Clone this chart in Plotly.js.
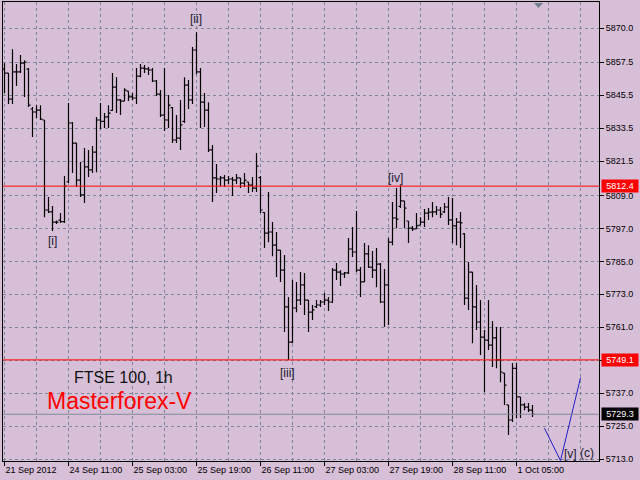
<!DOCTYPE html>
<html>
<head>
<meta charset="utf-8">
<script src="https://cdn.plot.ly/plotly-3.0.1.min.js"></script>
<style>html,body{margin:0;padding:0;background:#D8BFD8;}#chart{width:640px;height:480px;}</style>
</head>
<body>
<div id="chart"></div>
<script>
// ---- data (FTSE 100, 1h bars) ----
var openP = [
5855.0,5853.6,5844.1,5854.0,5854.0,5857.2,5855.0,5840.5,5839.4,5840.1,
5836.5,5803.7,5803.0,5799.3,5800.0,5799.5,5814.0,5835.4,5828.1,5814.6,
5809.2,5819.4,5818.3,5824.8,5836.5,5836.0,5837.6,5840.0,5848.5,5843.8,
5843.4,5847.0,5844.9,5844.5,5852.5,5855.4,5855.1,5854.7,5850.7,5845.9,
5838.3,5836.5,5841.0,5829.2,5829.9,5836.0,5849.2,5843.8,5862.0,5854.0,
5843.0,5840.1,5825.6,5815.4,5815.0,5815.4,5814.6,5815.0,5814.6,5815.4,
5813.5,5813.9,5812.8,5811.7,5815.5,5802.8,5795.3,5795.7,5790.9,5789.1,
5781.8,5768.4,5755.6,5768.0,5770.9,5776.4,5770.9,5766.5,5768.5,5769.1,
5770.2,5770.9,5770.2,5781.8,5781.1,5780.4,5780.8,5789.5,5788.4,5781.8,
5777.5,5787.7,5782.9,5781.8,5784.0,5770.2,5776.4,5792.0,5800.8,5805.0,
5807.0,5799.7,5797.1,5796.8,5798.2,5799.3,5802.6,5802.9,5803.0,5803.7,
5803.0,5804.8,5800.1,5797.9,5799.3,5795.0,5771.6,5781.1,5768.4,5762.9,
5757.4,5756.3,5754.5,5757.1,5749.1,5744.3,5732.7,5727.2,5746.0,5735.6,
5732.7,5731.9,5730.8
];
var highP = [
5857.2,5853.6,5862.3,5856.9,5860.2,5858.3,5855.4,5841.2,5841.9,5841.9,
5836.5,5808.4,5805.2,5799.9,5802.6,5816.1,5842.7,5835.8,5828.1,5821.2,
5826.3,5825.6,5827.0,5837.6,5842.7,5839.0,5841.9,5853.6,5852.1,5844.1,
5848.1,5847.0,5846.3,5855.4,5856.9,5856.5,5855.8,5855.4,5851.1,5847.4,
5855.4,5845.6,5841.2,5838.3,5843.8,5852.1,5851.1,5863.1,5868.5,5855.4,
5846.3,5843.0,5827.4,5820.5,5816.1,5816.5,5816.1,5815.7,5816.8,5815.4,
5817.2,5813.9,5815.7,5824.5,5816.1,5803.0,5810.3,5799.3,5795.7,5789.1,
5787.3,5772.0,5778.2,5777.5,5781.1,5780.8,5770.9,5769.1,5770.9,5770.9,
5773.5,5772.0,5782.6,5784.4,5781.8,5781.1,5793.5,5797.5,5803.3,5782.9,
5791.7,5790.9,5788.8,5789.9,5784.4,5782.2,5793.5,5806.6,5811.7,5812.8,
5807.0,5799.7,5797.9,5802.6,5801.1,5804.1,5804.4,5806.6,5805.2,5804.8,
5806.3,5808.4,5808.1,5800.8,5803.0,5795.3,5784.8,5781.1,5776.4,5770.9,
5760.0,5770.9,5763.3,5761.1,5761.1,5744.3,5732.7,5748.0,5748.0,5735.6,
5733.4,5733.4,5732.7
];
var lowP = [
5846.3,5842.3,5842.3,5848.9,5853.6,5844.9,5841.2,5830.3,5837.2,5836.5,
5801.1,5802.6,5796.1,5798.6,5799.0,5799.0,5813.5,5817.2,5812.1,5808.4,
5806.3,5815.7,5817.2,5817.5,5833.2,5833.6,5833.6,5839.8,5839.0,5838.3,
5843.4,5843.4,5843.8,5842.3,5852.1,5853.6,5852.9,5850.3,5845.2,5837.6,
5832.5,5833.6,5828.1,5828.1,5825.6,5835.4,5840.5,5842.3,5853.2,5833.6,
5833.9,5824.8,5806.6,5809.9,5812.4,5812.1,5813.2,5808.8,5813.2,5811.7,
5812.1,5809.9,5810.3,5810.3,5802.6,5789.9,5792.0,5786.9,5779.3,5777.5,
5759.3,5749.1,5755.2,5766.5,5769.1,5765.5,5759.3,5763.6,5768.0,5768.4,
5769.1,5766.9,5769.8,5778.2,5776.0,5778.9,5780.4,5786.6,5781.1,5772.0,
5777.5,5782.6,5778.9,5775.6,5769.8,5761.1,5761.8,5790.9,5797.1,5804.4,
5797.1,5791.7,5796.1,5796.8,5798.2,5797.5,5800.1,5801.1,5801.9,5800.8,
5802.6,5798.2,5791.7,5790.9,5789.9,5769.1,5767.3,5755.2,5760.0,5750.9,
5737.4,5752.7,5746.5,5746.1,5741.0,5732.7,5721.7,5726.5,5727.9,5727.9,
5730.8,5730.1,5728.3
];
var closeP = [
5853.6,5844.1,5854.0,5854.0,5857.2,5857.6,5841.9,5839.4,5840.1,5836.8,
5803.7,5803.0,5799.3,5799.3,5799.5,5812.4,5835.4,5828.1,5814.6,5809.2,
5819.4,5818.3,5824.8,5836.5,5836.0,5837.6,5839.0,5848.5,5843.8,5843.4,
5847.4,5844.9,5844.5,5852.5,5855.4,5855.1,5854.7,5850.7,5845.9,5838.3,
5836.5,5841.9,5829.2,5829.9,5834.7,5849.2,5843.8,5862.0,5854.0,5843.0,
5840.1,5825.6,5815.4,5815.0,5815.4,5814.6,5815.0,5814.6,5815.4,5813.5,
5814.6,5812.8,5811.7,5819.7,5803.7,5795.3,5795.7,5790.9,5789.1,5781.8,
5768.4,5755.6,5768.0,5770.9,5776.4,5770.9,5766.5,5767.3,5769.1,5770.2,
5770.9,5770.2,5781.8,5781.1,5780.4,5780.8,5789.5,5788.4,5781.8,5777.5,
5787.7,5782.9,5781.8,5784.0,5770.2,5776.4,5792.0,5800.8,5800.4,5807.0,
5804.4,5797.1,5796.8,5797.9,5799.3,5802.6,5802.9,5803.0,5803.7,5802.2,
5804.8,5800.1,5797.9,5799.3,5799.0,5771.6,5781.1,5768.4,5762.9,5757.4,
5756.3,5754.5,5757.1,5749.1,5744.7,5739.9,5727.2,5746.0,5735.6,5732.7,
5731.9,5730.8,5729.3
];

// time axis labels (every 16 hourly bars)
var timeTickBars = [0, 16, 32, 48, 64, 80, 96, 112, 128];
var timeTickLabels = ["21 Sep 2012", "24 Sep 11:00", "25 Sep 03:00", "25 Sep 19:00",
  "26 Sep 11:00", "27 Sep 03:00", "27 Sep 19:00", "28 Sep 11:00", "1 Oct 05:00"];

// price axis labels
var priceTicks = [5713.0, 5725.0, 5737.0, 5749.0, 5761.0, 5773.0, 5785.0, 5797.0,
  5809.0, 5821.5, 5833.5, 5845.5, 5857.5, 5870.0];
var priceTickLabels = ["5713.0", "5725.0", "5737.0", "", "5761.0", "5773.0", "5785.0",
  "5797.0", "5809.0", "5821.5", "5833.5", "5845.5", "5857.5", "5870.0"];

// horizontal levels
var redLevels = [5812.4, 5749.1];
var lastPrice = 5729.3;

// projected wave (v)/(c)
var waveBars = [135, 139, 144];
var wavePrices = [5724.2, 5712.4, 5742.6];

// wave labels
var waveLabelText = ["[i]", "[ii]", "[iii]", "[iv]", "[v]", "(c)"];
var waveLabelBar = [11.9, 47.9, 70.75, 97.75, 141.6, 145.6];
var waveLabelPrice = [5792.4, 5873.3, 5744.5, 5815.4, 5714.8, 5715.2];

// ---- chart ----
var barIdx = [];
for (var i = 0; i < closeP.length; i++) barIdx.push(i);

var gridColor = '#7d8798';
var bg = '#D8BFD8';
var fam = 'Liberation Sans, Arial, sans-serif';

var traces = [
  {
    type: 'ohlc', x: barIdx, open: openP, high: highP, low: lowP, close: closeP,
    increasing: {line: {color: '#000000', width: 1.2}},
    decreasing: {line: {color: '#000000', width: 1.2}},
    tickwidth: 0.5, hoverinfo: 'skip', showlegend: false
  },
  {
    type: 'scatter', mode: 'lines', x: waveBars, y: wavePrices,
    line: {color: '#1e1ec8', width: 1}, hoverinfo: 'skip', showlegend: false, cliponaxis: false
  }
];

var shapes = [];
redLevels.forEach(function (v) {
  shapes.push({type: 'line', xref: 'paper', x0: 0, x1: 1, yref: 'y', y0: v, y1: v,
    line: {color: '#ff0000', width: 1}, layer: 'above'});
});
shapes.push({type: 'line', xref: 'paper', x0: 0, x1: 1, yref: 'y', y0: lastPrice, y1: lastPrice,
  line: {color: '#7f8c99', width: 1}, layer: 'above'});
shapes.push({type: 'path', xref: 'paper', yref: 'paper',
  path: 'M 0.8909,0.9978 L 0.9060,0.9978 L 0.8985,0.9869 Z',
  fillcolor: '#708090', line: {width: 0}});

var annotations = [];
for (var k = 0; k < waveLabelText.length; k++) {
  annotations.push({x: waveLabelBar[k], y: waveLabelPrice[k], xref: 'x', yref: 'y',
    xanchor: 'center', yanchor: 'middle',
    text: waveLabelText[k], showarrow: false,
    font: {family: fam, size: 12, color: '#202030'}});
}
annotations.push({xref: 'paper', yref: 'paper', x: 0.203, y: 0.1819, xanchor: 'center', yanchor: 'middle',
  text: 'FTSE 100, 1h', showarrow: false, font: {family: fam, size: 16, color: '#111111'}});
annotations.push({xref: 'paper', yref: 'paper', x: 0.1963, y: 0.1318, xanchor: 'center', yanchor: 'middle',
  text: 'Masterforex-V', showarrow: false, font: {family: fam, size: 23, color: '#ff0000'}});
redLevels.forEach(function (v) {
  annotations.push({xref: 'paper', x: 1.0034, xanchor: 'left', yref: 'y', y: v, yanchor: 'middle',
    text: v.toFixed(1), showarrow: false, bgcolor: '#ff0000', borderpad: 1, width: 34, height: 10,
    font: {family: fam, size: 9, color: '#ffffff'}});
});
annotations.push({xref: 'paper', x: 1.0034, xanchor: 'left', yref: 'y', y: lastPrice, yanchor: 'middle',
  text: lastPrice.toFixed(1), showarrow: false, bgcolor: '#000000', borderpad: 1, width: 34, height: 10,
  font: {family: fam, size: 9, color: '#ffffff'}});

var layout = {
  width: 640, height: 480,
  margin: {l: 3, r: 41, t: 2, b: 19, pad: 0},
  paper_bgcolor: bg, plot_bgcolor: bg,
  showlegend: false,
  font: {family: fam, size: 9, color: '#000000'},
  xaxis: {
    type: 'linear', range: [-0.375, 148.625], fixedrange: true,
    tickvals: timeTickBars, ticktext: timeTickLabels,
    ticks: 'outside', ticklen: 4, tickcolor: '#000000', tickwidth: 1,
    ticklabelposition: 'outside right',
    tickfont: {family: fam, size: 9, color: '#000000'},
    showline: true, mirror: true, linecolor: '#000000', linewidth: 1,
    showgrid: true, gridcolor: gridColor, griddash: '3px,3px', gridwidth: 1,
    minor: {tick0: 0, dtick: 8, showgrid: true, gridcolor: gridColor, griddash: '3px,3px', gridwidth: 1, ticks: ''},
    zeroline: false,
    rangeslider: {visible: false}
  },
  yaxis: {
    side: 'right', range: [5712.27, 5879.48], fixedrange: true,
    tickvals: priceTicks, ticktext: priceTickLabels,
    ticks: 'outside', ticklen: 4, tickcolor: '#000000', tickwidth: 1,
    tickfont: {family: fam, size: 9, color: '#000000'},
    showline: true, mirror: true, linecolor: '#000000', linewidth: 1,
    showgrid: true, gridcolor: gridColor, griddash: '3px,3px', gridwidth: 1,
    zeroline: false
  },
  shapes: shapes,
  annotations: annotations
};

Plotly.newPlot('chart', traces, layout, {displayModeBar: false, staticPlot: true});
</script>
</body>
</html>
